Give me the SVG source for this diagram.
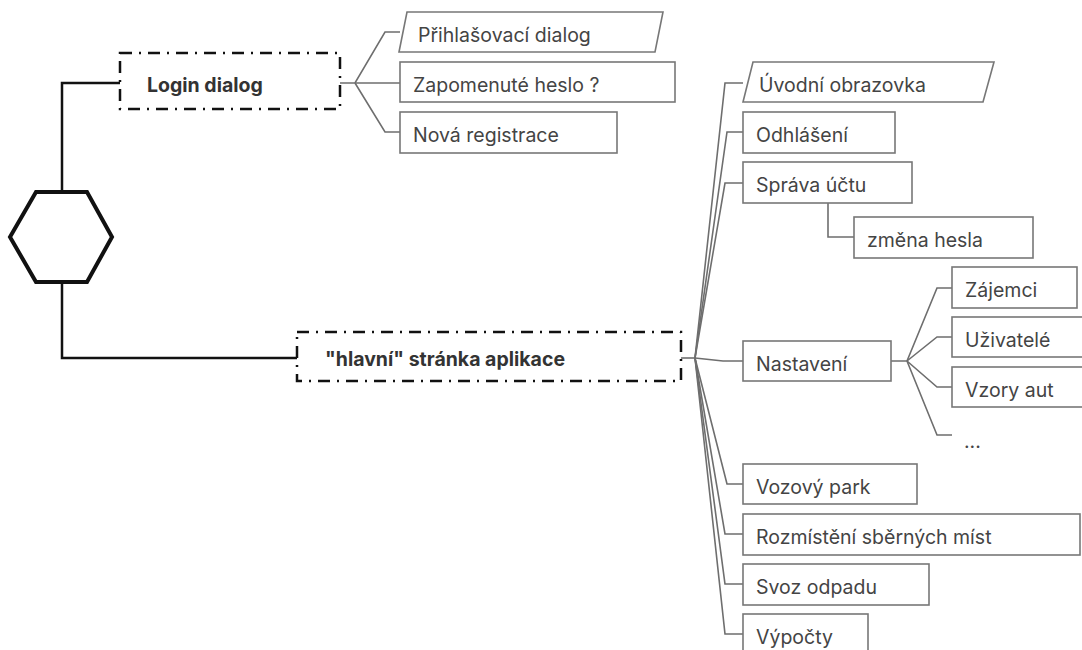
<svg xmlns="http://www.w3.org/2000/svg" width="1082" height="650" viewBox="0 0 1082 650">
  <style>
    .root { fill: #fff; stroke: #111; stroke-width: 4; stroke-linejoin: miter; }
    .hub { fill: #fff; stroke: #111; stroke-width: 2.5; stroke-dasharray: 12 7 2 7; }
    .leaf { fill: #fff; stroke: #777; stroke-width: 1.6; }
    .trunk { fill: none; stroke: #111; stroke-width: 2.5; }
    .branch { fill: none; stroke: #6e6e6e; stroke-width: 1.6; }
    .hubtxt { font-family: Inter, "Liberation Sans", sans-serif; font-size: 19.5px; font-weight: 700; fill: #333; }
    .txt { font-family: Inter, "Liberation Sans", sans-serif; font-size: 19.5px; fill: #444; }
  </style>
  <rect width="1082" height="650" fill="#fff"/>

  <g id="connectors">
    <!-- root to hubs -->
    <path class="trunk" d="M62 192 V83 H120"/>
    <path class="trunk" d="M62 282 V358 H297"/>
    <!-- login dialog fan -->
    <path class="branch" d="M340 83 H355 L385 32 H400"/>
    <path class="branch" d="M355 83 H400"/>
    <path class="branch" d="M355 83 L385 132 H400"/>
    <!-- main page fan -->
    <path class="branch" d="M681 358 H695"/>
    <path class="branch" d="M695 358 L725 83 H743"/>
    <path class="branch" d="M695 358 L727 132 H743"/>
    <path class="branch" d="M695 358 L725 183 H743"/>
    <path class="branch" d="M695 358 L723 361 H743"/>
    <path class="branch" d="M695 358 L727 484 H743"/>
    <path class="branch" d="M695 358 L725 534 H743"/>
    <path class="branch" d="M695 358 L725 584 H743"/>
    <path class="branch" d="M695 358 L725 634 H743"/>
    <!-- account settings -->
    <path class="branch" d="M828 203 V237 H854"/>
    <!-- settings fan -->
    <path class="branch" d="M891 361 H907 L937 288 H952"/>
    <path class="branch" d="M907 361 L937 337 H952"/>
    <path class="branch" d="M907 361 L937 387 H952"/>
    <path class="branch" d="M907 361 L937 435 H952"/>
  </g>

  <g id="root">
    <polygon class="root" points="10,237 36,192 87,192 112,237 87,282 36,282"/>
  </g>

  <g id="login-dialog">
    <rect class="hub" x="120" y="53" width="220" height="56"/>
    <text class="hubtxt" x="147" y="92">Login dialog</text>
  </g>
  <g id="main-page">
    <rect class="hub" x="297" y="332" width="384" height="49"/>
    <text class="hubtxt" x="325" y="366">"hlavní" stránka aplikace</text>
  </g>

  <g id="login-form">
    <polygon class="leaf" points="407,12 663,12 655,52 399,52"/>
    <text class="txt" x="418" y="42">Přihlašovací dialog</text>
  </g>
  <g id="forgot-password">
    <rect class="leaf" x="400" y="62" width="275" height="40"/>
    <text class="txt" x="413" y="92">Zapomenuté heslo ?</text>
  </g>
  <g id="registration">
    <rect class="leaf" x="400" y="112" width="217" height="41"/>
    <text class="txt" x="413" y="142">Nová registrace</text>
  </g>

  <g id="welcome">
    <polygon class="leaf" points="753,62 994,62 983,102 743,102"/>
    <text class="txt" x="759" y="92">Úvodní obrazovka</text>
  </g>
  <g id="logout">
    <rect class="leaf" x="743" y="112" width="152" height="41"/>
    <text class="txt" x="756" y="142">Odhlášení</text>
  </g>
  <g id="account">
    <rect class="leaf" x="743" y="162" width="169" height="41"/>
    <text class="txt" x="756" y="192">Správa účtu</text>
  </g>
  <g id="change-password">
    <rect class="leaf" x="854" y="217" width="179" height="41"/>
    <text class="txt" x="867" y="247">změna hesla</text>
  </g>
  <g id="settings">
    <rect class="leaf" x="743" y="341" width="148" height="40"/>
    <text class="txt" x="756" y="371">Nastavení</text>
  </g>
  <g id="prospects">
    <rect class="leaf" x="952" y="267" width="125" height="41"/>
    <text class="txt" x="965" y="297">Zájemci</text>
  </g>
  <g id="users">
    <rect class="leaf" x="952" y="317" width="140" height="40"/>
    <text class="txt" x="965" y="347">Uživatelé</text>
  </g>
  <g id="car-models">
    <rect class="leaf" x="952" y="367" width="140" height="40"/>
    <text class="txt" x="965" y="397">Vzory aut</text>
  </g>
  <g id="more">
    <text class="txt" x="964" y="448">...</text>
  </g>
  <g id="fleet">
    <rect class="leaf" x="743" y="464" width="174" height="40"/>
    <text class="txt" x="756" y="494">Vozový park</text>
  </g>
  <g id="collection-points">
    <rect class="leaf" x="743" y="514" width="337" height="41"/>
    <text class="txt" x="756" y="544">Rozmístění sběrných míst</text>
  </g>
  <g id="waste-collection">
    <rect class="leaf" x="743" y="564" width="186" height="41"/>
    <text class="txt" x="756" y="594">Svoz odpadu</text>
  </g>
  <g id="calculations">
    <rect class="leaf" x="743" y="614" width="125" height="45"/>
    <text class="txt" x="756" y="644">Výpočty</text>
  </g>
</svg>
